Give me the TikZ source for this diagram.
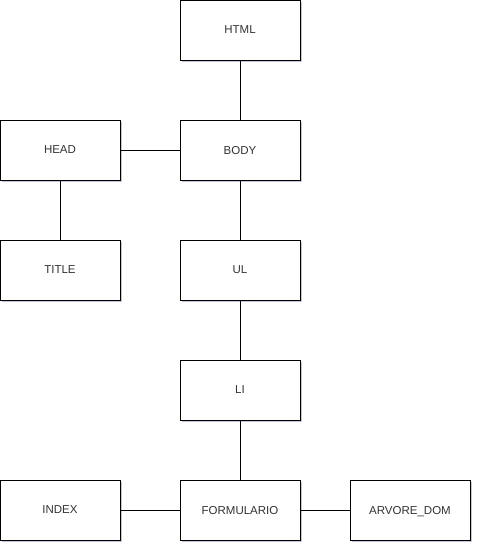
\documentclass[tikz,border=0pt]{standalone}
\usepackage{fontspec}
\setmainfont{Liberation Sans}
\usetikzlibrary{shadows}
\tikzset{
  dombox/.style={draw=black, line width=1pt, fill=white, minimum width=120pt, minimum height=60pt,
    inner sep=0pt, text depth=0pt, font=\fontsize{11.5}{13}\selectfont, text=black!80,
    drop shadow={shadow xshift=2pt, shadow yshift=-2pt, fill=blue!30!gray, opacity=0.35}},
  domlink/.style={line width=1pt, draw=black}
}
\begin{document}
\begin{tikzpicture}[x=1pt, y=-1pt]
  \useasboundingbox (0,0) rectangle (477,547);
  \node[dombox] (html) at (240,30) {HTML};
  \node[dombox] (head) at (60,150) {HEAD};
  \node[dombox] (body) at (240,150) {BODY};
  \node[dombox] (title) at (60,270) {TITLE};
  \node[dombox] (ul) at (240,270) {UL};
  \node[dombox] (li) at (240,390) {LI};
  \node[dombox] (index) at (60,510) {INDEX};
  \node[dombox] (form) at (240,510) {FORMULARIO};
  \node[dombox] (dom) at (410,510) {ARVORE\_DOM};
  \draw[domlink] (html) -- (body);
  \draw[domlink] (head) -- (body);
  \draw[domlink] (head) -- (title);
  \draw[domlink] (body) -- (ul);
  \draw[domlink] (ul) -- (li);
  \draw[domlink] (li) -- (form);
  \draw[domlink] (index) -- (form);
  \draw[domlink] (form) -- (dom);
\end{tikzpicture}
\end{document}
